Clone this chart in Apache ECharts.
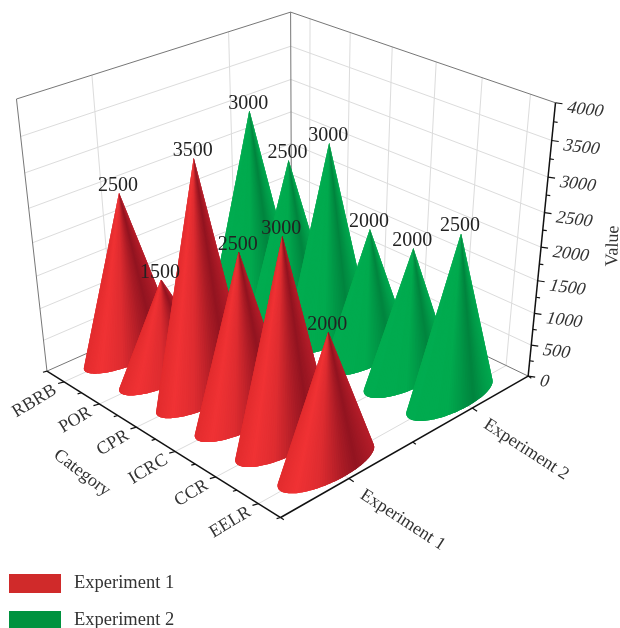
<!DOCTYPE html>
<html>
<head>
<meta charset="utf-8">
<style>html,body{margin:0;padding:0;background:#fff}#chart{width:620px;height:628px}</style>
<script src="https://cdn.jsdelivr.net/npm/echarts@6/dist/echarts.min.js"></script>
</head>
<body>
<div id="chart"></div>
<script>
// Chart content
const categories = ['RBRB', 'POR', 'CPR', 'ICRC', 'CCR', 'EELR'];
const experiments = ['Experiment 1', 'Experiment 2'];
const experiment1 = [2500, 1500, 3500, 2500, 3000, 2000];
const experiment2 = [3000, 2500, 3000, 2000, 2000, 2500];
const valueTicks = [0, 500, 1000, 1500, 2000, 2500, 3000, 3500, 4000];
const valueMax = 4000;

// Cone footprint, as a fraction of the floor
const radiusX = 0.068;
const radiusY = 0.17;
const FONT = '"Liberation Serif", serif';

// Perspective camera fitted to known points: [X, Y, Z, screenX, screenY]
const cameraPoints = [
  [0, 0, 0, 48, 371], [1, 0, 0, 280, 517], [1, 1, 0, 527, 375],
  [0, 0, 1, 16, 99], [0, 1, 1, 290, 12], [1, 1, 1, 555, 103],
  [1, 0.25, 0, 352, 478], [1, 0.75, 0, 473, 407],
  [1, 1, 0.125, 532, 346], [1, 1, 0.375, 537, 282], [1, 1, 0.5, 542, 247],
  [1, 1, 0.625, 545, 212], [1, 1, 0.75, 548, 177], [1, 1, 0.875, 552, 142],
  [1 / 12, 0, 0, 62, 382], [11 / 12, 0, 0, 255, 504],
  [0, 0, 0.875, 21, 136], [0, 0, 0.75, 25, 173], [0, 0, 0.625, 29, 207],
  [0, 0, 0.5, 33, 242], [0, 0, 0.375, 37, 276], [0, 0, 0.25, 41, 312],
  [0, 1, 0.875, 290, 46], [0, 1, 0.75, 291, 79], [0, 1, 0.625, 291, 112]
];

function solveCamera(pts) {
  const n = 11, ata = [], atb = new Array(n).fill(0);
  for (let i = 0; i < n; i++) ata.push(new Array(n).fill(0));
  const add = (row, rhs) => {
    for (let i = 0; i < n; i++) {
      atb[i] += row[i] * rhs;
      for (let j = 0; j < n; j++) ata[i][j] += row[i] * row[j];
    }
  };
  pts.forEach(([X, Y, Z, sx, sy]) => {
    add([X, Y, Z, 1, 0, 0, 0, 0, -sx * X, -sx * Y, -sx * Z], sx);
    add([0, 0, 0, 0, X, Y, Z, 1, -sy * X, -sy * Y, -sy * Z], sy);
  });
  for (let c = 0; c < n; c++) {
    let p = c;
    for (let r = c + 1; r < n; r++) if (Math.abs(ata[r][c]) > Math.abs(ata[p][c])) p = r;
    [ata[c], ata[p]] = [ata[p], ata[c]];
    [atb[c], atb[p]] = [atb[p], atb[c]];
    for (let r = 0; r < n; r++) {
      if (r === c) continue;
      const f = ata[r][c] / ata[c][c];
      for (let k = c; k < n; k++) ata[r][k] -= f * ata[c][k];
      atb[r] -= f * atb[c];
    }
  }
  return atb.map((v, i) => v / ata[i][i]);
}
const cam = solveCamera(cameraPoints);
function project(X, Y, Z) {
  const w = cam[8] * X + cam[9] * Y + cam[10] * Z + 1;
  return [
    (cam[0] * X + cam[1] * Y + cam[2] * Z + cam[3]) / w,
    (cam[4] * X + cam[5] * Y + cam[6] * Z + cam[7]) / w
  ];
}

// The hidden grid fills the canvas, so its pixels normalise to unit cube coordinates
function toUnit(api, cat, val) {
  const p = api.coord([cat, val]);
  return { X: p[0] / api.getWidth(), Z: 1 - p[1] / api.getHeight() };
}

function lerpColor(stops, t) {
  t = Math.max(0, Math.min(1, t));
  for (let i = 1; i < stops.length; i++) {
    if (t <= stops[i][0]) {
      const a = stops[i - 1], b = stops[i], f = (t - a[0]) / (b[0] - a[0]);
      return 'rgb(' + [0, 1, 2].map(k => Math.round(a[1][k] + (b[1][k] - a[1][k]) * f)).join(',') + ')';
    }
  }
  return 'rgb(' + stops[stops.length - 1][1].join(',') + ')';
}
// Shading across the visible surface, left silhouette to right silhouette
const redRamp = [
  [0, [226, 44, 46]], [0.16, [240, 50, 52]], [0.36, [222, 44, 48]],
  [0.58, [172, 28, 38]], [0.73, [146, 20, 32]], [1, [184, 30, 42]]
];
const greenRamp = [
  [0, [0, 172, 80]], [0.42, [0, 170, 78]], [0.58, [0, 150, 70]],
  [0.72, [0, 132, 62]], [0.86, [0, 154, 72]], [1, [0, 170, 80]]
];

function coneRenderer(depthIndex, ramp) {
  const Y = (depthIndex + 0.5) / experiments.length;
  return function (params, api) {
    const i = api.value(0), v = api.value(1);
    const u = toUnit(api, i, v);
    const tip = project(u.X, Y, u.Z);
    // The sharp tip fades out about two pixels short of the true height
    const apex = [tip[0], tip[1] + 2];
    const N = 120, base = [];
    for (let k = 0; k < N; k++) {
      const th = (k / N) * Math.PI * 2;
      base.push(project(u.X + radiusX * Math.cos(th), Y + radiusY * Math.sin(th), 0));
    }
    // Silhouette tangents from the apex, then the rim arc that faces the viewer
    const ang = base.map(p => Math.atan2(p[0] - apex[0], p[1] - apex[1]));
    let lo = 0, hi = 0, low = 0;
    ang.forEach((a, k) => {
      if (a < ang[lo]) lo = k;
      if (a > ang[hi]) hi = k;
      if (base[k][1] > base[low][1]) low = k;
    });
    const walk = dir => {
      const arc = [];
      for (let k = lo; ; k = (k + dir + N) % N) {
        arc.push(k);
        if (k === hi) break;
      }
      return arc;
    };
    let arc = walk(1);
    if (arc.indexOf(low) < 0) arc = walk(-1);

    // Overlapping slices painted left to right leave no seams between shades
    const children = [];
    for (let s = 0; s < arc.length - 1; s++) {
      const pts = [apex];
      for (let q = s; q <= Math.min(s + 3, arc.length - 1); q++) pts.push(base[arc[q]]);
      const t = (ang[arc[s]] - ang[lo]) / (ang[hi] - ang[lo]);
      children.push({ type: 'polygon', shape: { points: pts }, style: { fill: lerpColor(ramp, t) } });
    }
    children.push({
      type: 'text', z2: 100, x: apex[0] - 1, y: apex[1] - 7,
      style: { text: String(v), fontFamily: FONT, fontSize: 20, fill: '#222', align: 'center', verticalAlign: 'middle' }
    });
    return { type: 'group', children };
  };
}

function line(p, q, stroke, lineWidth) {
  return { type: 'line', shape: { x1: p[0], y1: p[1], x2: q[0], y2: q[1] }, style: { stroke, lineWidth } };
}
// deg is counter-clockwise on screen
function label(text, x, y, deg, align, size, extra) {
  return Object.assign({
    type: 'text', x, y, rotation: deg * Math.PI / 180,
    style: { text, x: 0, y: 0, fontFamily: FONT, fontSize: size, fill: '#333', align, verticalAlign: 'middle' }
  }, extra || {});
}

function renderFrame(params, api) {
  const out = [];
  const GRID = '#dcdcdc', EDGE = '#777', AXIS = '#111';
  const nCat = categories.length, nExp = experiments.length;
  const zOf = v => toUnit(api, 0, v).Z;

  // Wall and floor gridlines
  valueTicks.forEach(v => {
    if (v === 0 || v === valueMax) return;
    const z = zOf(v);
    out.push(line(project(0, 0, z), project(0, 1, z), GRID, 1));
    out.push(line(project(0, 1, z), project(1, 1, z), GRID, 1));
  });
  for (let i = 0; i < nCat; i++) {
    const x = (i + 0.5) / nCat;
    out.push(line(project(x, 0, 0), project(x, 1, 0), GRID, 1));
    out.push(line(project(x, 1, 0), project(x, 1, 1), GRID, 1));
  }
  for (let j = 0; j < nExp; j++) {
    const y = (j + 0.5) / nExp;
    out.push(line(project(0, y, 0), project(1, y, 0), GRID, 1));
    out.push(line(project(0, y, 0), project(0, y, 1), GRID, 1));
  }

  // Cube edges
  [[0, 0, 0, 0, 0, 1], [0, 0, 1, 0, 1, 1], [0, 1, 1, 1, 1, 1], [0, 1, 0, 0, 1, 1],
   [0, 0, 0, 0, 1, 0], [0, 1, 0, 1, 1, 0]].forEach(e => {
    out.push(line(project(e[0], e[1], e[2]), project(e[3], e[4], e[5]), EDGE, 1));
  });

  // Category axis: ticks point away from the floor along the depth direction
  out.push(line(project(0, 0, 0), project(1, 0, 0), AXIS, 1.5));
  for (let k = 0; k <= nCat * 2; k++) {
    const p = project(k / (nCat * 2), 0, 0);
    const major = k % 2 === 1, len = major ? 6 : 4;
    out.push(line(p, [p[0] - len, p[1] + len * 0.28], AXIS, 1.2));
    if (major) {
      out.push(label(categories[(k - 1) / 2], p[0] - 9, p[1] + 7, 31, 'right', 18));
    }
  }

  // Experiment axis
  out.push(line(project(1, 0, 0), project(1, 1, 0), AXIS, 1.5));
  for (let k = 0; k <= nExp * 2; k++) {
    const p = project(1, k / (nExp * 2), 0);
    const major = k % 2 === 1, len = major ? 6 : 4;
    out.push(line(p, [p[0] + len * 0.8, p[1] + len * 0.55], AXIS, 1.2));
    if (major) {
      out.push(label(experiments[(k - 1) / 2], p[0] + 13, p[1] + 15, -33, 'left', 18));
    }
  }

  // Value axis
  out.push(line(project(1, 1, 0), project(1, 1, 1), AXIS, 1.5));
  valueTicks.forEach((v, idx) => {
    const p = project(1, 1, zOf(v));
    out.push(line(p, [p[0] + 7, p[1] + 1], AXIS, 1.2));
    out.push(label(String(v), p[0] + 12, p[1] + 5, -7, 'left', 18, { skewX: -0.22 }));
    if (idx < valueTicks.length - 1) {
      const m = project(1, 1, zOf((v + valueTicks[idx + 1]) / 2));
      out.push(line(m, [m[0] + 4, m[1] + 0.6], AXIS, 1.2));
    }
  });

  // Axis titles
  out.push(label('Category', 82, 473, -37, 'center', 18));
  out.push(label('Value', 613, 246, 88, 'center', 18));
  return { type: 'group', children: out };
}

const legendBase = {
  left: 9, padding: 0, itemWidth: 52, itemHeight: 19, icon: 'rect', selectedMode: false,
  textStyle: { fontFamily: FONT, fontSize: 18.5, color: '#333', padding: [0, 0, 0, 8] }
};
const chart = echarts.init(document.getElementById('chart'), null, { renderer: 'canvas' });
chart.setOption({
  animation: false,
  backgroundColor: '#fff',
  grid: { left: 0, right: 0, top: 0, bottom: 0 },
  xAxis: { type: 'value', min: -0.5, max: categories.length - 0.5, show: false },
  yAxis: { type: 'value', min: 0, max: valueMax, show: false },
  legend: [
    Object.assign({}, legendBase, { data: [experiments[0]], top: 574 }),
    Object.assign({}, legendBase, { data: [experiments[1]], top: 611 })
  ],
  series: [
    { type: 'custom', name: 'Axes', silent: true, coordinateSystem: 'cartesian2d',
      data: [[0, 0]], renderItem: renderFrame },
    { type: 'custom', name: experiments[1], silent: true, itemStyle: { color: '#00923f' },
      data: experiment2.map((v, i) => [i, v]), encode: { x: 0, y: 1 }, renderItem: coneRenderer(1, greenRamp) },
    { type: 'custom', name: experiments[0], silent: true, itemStyle: { color: '#d02a2a' },
      data: experiment1.map((v, i) => [i, v]), encode: { x: 0, y: 1 }, renderItem: coneRenderer(0, redRamp) }
  ]
});
</script>
</body>
</html>
